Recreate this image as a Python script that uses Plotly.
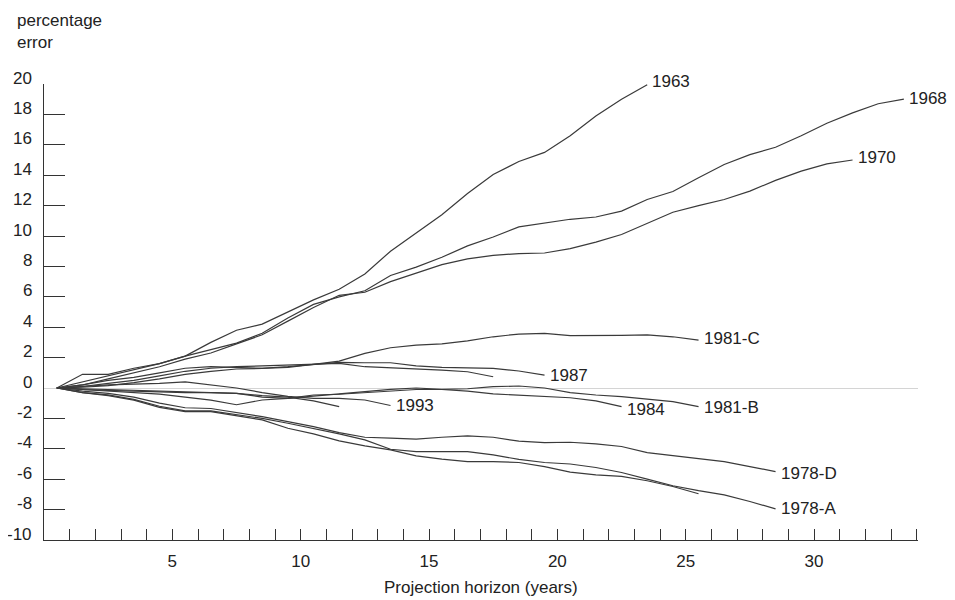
import plotly.graph_objects as go

# ---------------- data (percentage error by projection horizon, years) ----------------
START = 0.5  # first horizon point; points every year after that

names = ["1963", "1968", "1970", "1981-C", "1987", "1990", "1981-B", "1984",
         "1993", "1996", "1978-D", "1978-A", "1981-A"]
labelled = {"1963", "1968", "1970", "1981-C", "1987", "1981-B", "1984",
            "1993", "1978-D", "1978-A"}

s1963 = [0, 0.9, 0.9, 1.3, 1.6, 2.1, 3.0, 3.8, 4.2, 5.0, 5.8, 6.5, 7.5, 9.0,
         10.2, 11.4, 12.8, 14.05, 14.9, 15.5, 16.6, 17.9, 19.0, 19.95]
s1968 = [0, 0.4, 0.8, 1.2, 1.6, 2.1, 2.5, 2.95, 3.6, 4.6, 5.5, 6.0, 6.4, 7.4,
         7.95, 8.6, 9.35, 9.93, 10.6, 10.85, 11.1, 11.25, 11.64, 12.4, 12.93,
         13.83, 14.7, 15.35, 15.84, 16.6, 17.42, 18.1, 18.7, 19.0]
s1970 = [0, 0.2, 0.6, 1.0, 1.4, 1.9, 2.3, 2.9, 3.5, 4.4, 5.3, 6.1, 6.3, 7.0,
         7.57, 8.12, 8.5, 8.73, 8.84, 8.88, 9.17, 9.6, 10.1, 10.85, 11.56,
         12.0, 12.4, 12.95, 13.66, 14.27, 14.75, 15.0]
s1981c = [0, 0.05, 0.15, 0.35, 0.6, 0.9, 1.1, 1.25, 1.29, 1.36, 1.55, 1.77,
          2.28, 2.65, 2.82, 2.9, 3.1, 3.37, 3.55, 3.59, 3.44, 3.44, 3.46, 3.5,
          3.37, 3.15]
s1987 = [0, 0.2, 0.5, 0.7, 1.0, 1.3, 1.4, 1.35, 1.3, 1.4, 1.55, 1.69, 1.66,
         1.66, 1.46, 1.36, 1.33, 1.29, 1.12, 0.85]
s1990 = [0, 0.1, 0.3, 0.5, 0.8, 1.1, 1.3, 1.4, 1.45, 1.5, 1.55, 1.62, 1.4,
         1.33, 1.25, 1.18, 1.07, 0.74]
s1981b = [0, -0.1, -0.15, -0.2, -0.25, -0.3, -0.3, -0.35, -0.6, -0.68, -0.53,
          -0.39, -0.24, -0.09, 0.0, -0.09, -0.05, 0.09, 0.13, 0.0, -0.3, -0.46,
          -0.57, -0.74, -0.9, -1.23]
s1984 = [0, -0.1, -0.2, -0.3, -0.4, -0.6, -0.8, -1.1, -0.79, -0.68, -0.46,
         -0.41, -0.3, -0.2, -0.1, -0.1, -0.2, -0.39, -0.46, -0.57, -0.64,
         -0.85, -1.23]
s1993 = [0, 0.1, 0.2, 0.25, 0.3, 0.4, 0.2, 0.0, -0.3, -0.55, -0.68, -0.68,
         -0.79, -1.15]
s1996 = [0, -0.05, -0.1, -0.15, -0.2, -0.25, -0.3, -0.35, -0.5, -0.6, -0.85,
         -1.23]
s1978d = [0, -0.2, -0.35, -0.6, -1.0, -1.3, -1.35, -1.6, -1.88, -2.21, -2.54,
          -2.93, -3.24, -3.3, -3.37, -3.24, -3.15, -3.24, -3.5, -3.59, -3.57,
          -3.68, -3.85, -4.25, -4.46, -4.66, -4.84, -5.17, -5.5]
s1978a = [0, -0.3, -0.45, -0.75, -1.2, -1.5, -1.5, -1.75, -2.0, -2.32, -2.65,
          -3.02, -3.41, -4.03, -4.18, -4.18, -4.18, -4.4, -4.7, -4.9, -5.0,
          -5.23, -5.56, -6.0, -6.43, -6.75, -7.03, -7.47, -7.95]
s1981a = [0, -0.3, -0.5, -0.8, -1.27, -1.55, -1.55, -1.85, -2.1, -2.65, -3.02,
          -3.48, -3.81, -4.07, -4.46, -4.68, -4.84, -4.84, -4.9, -5.17, -5.54,
          -5.71, -5.82, -6.1, -6.48, -6.96]

values = [s1963, s1968, s1970, s1981c, s1987, s1990, s1981b, s1984,
          s1993, s1996, s1978d, s1978a, s1981a]

# label vertical nudges in pixels (positive = up)
label_yshift = {"1963": 3, "1968": 1, "1970": 3, "1981-C": 2, "1987": 0,
                "1981-B": -1, "1984": -3, "1993": 0, "1978-D": -2, "1978-A": 0}

y_ticks = [20, 18, 16, 14, 12, 10, 8, 6, 4, 2, 0, -2, -4, -6, -8, -10]
x_tick_vals = list(range(1, 35))
x_tick_text = [str(v) if v % 5 == 0 else "" for v in x_tick_vals]

# ---------------- figure ----------------
FONT = "Liberation Sans, Arial, sans-serif"
TXT = "#222222"
LINE = "#3a3a3a"
FS = 17

fig = go.Figure()
annotations = []
for name, vals in zip(names, values):
    xs = [START + i for i in range(len(vals))]
    fig.add_trace(go.Scatter(x=xs, y=vals, mode="lines", name=name,
                             line=dict(color=LINE, width=1.2),
                             hoverinfo="x+y+name", showlegend=False))
    if name in labelled:
        annotations.append(dict(x=xs[-1], y=vals[-1], xref="x", yref="y",
                                text=name, showarrow=False, xanchor="left",
                                yanchor="middle", xshift=3,
                                yshift=label_yshift.get(name, 0),
                                font=dict(family=FONT, size=FS, color=TXT)))

# y tick labels (sit slightly above their tick marks, as in the original)
for v in y_ticks:
    annotations.append(dict(x=0, y=v, xref="paper", yref="y", text=str(v),
                            showarrow=False, xanchor="right", yanchor="middle",
                            xshift=-10, yshift=6,
                            font=dict(family=FONT, size=FS, color=TXT)))

annotations.append(dict(x=0, y=1, xref="paper", yref="paper",
                        text="percentage<br>error", showarrow=False,
                        xanchor="left", yanchor="bottom", align="left",
                        xshift=-29, yshift=30,
                        font=dict(family=FONT, size=FS, color=TXT)))
annotations.append(dict(x=0.5, y=0, xref="paper", yref="paper",
                        text="Projection horizon (years)", showarrow=False,
                        xanchor="center", yanchor="top", yshift=-36,
                        font=dict(family=FONT, size=FS, color=TXT)))

# the page body adds an 8px margin, so the figure is 8px smaller each way
fig.update_layout(
    width=947, height=592, autosize=False,
    margin=dict(l=36, r=37, t=76, b=60),
    paper_bgcolor="white", plot_bgcolor="white",
    font=dict(family=FONT, size=FS, color=TXT),
    annotations=annotations,
    xaxis=dict(range=[0, 34.05], tickmode="array", tickvals=x_tick_vals,
               ticktext=x_tick_text, ticks="inside", ticklen=11, tickwidth=1,
               tickcolor="#333333", showline=True, linecolor="#333333",
               linewidth=1, showgrid=False, zeroline=False,
               tickfont=dict(family=FONT, size=FS, color=TXT),
               ticklabelstandoff=6),
    yaxis=dict(range=[-10, 20], tickmode="array",
               tickvals=[v for v in y_ticks if v not in (0, -10)],
               ticks="inside", ticklen=21, tickwidth=1, tickcolor="#333333",
               showticklabels=False, showline=True, linecolor="#333333",
               linewidth=1, showgrid=False, zeroline=True,
               zerolinecolor="#d4d4d4", zerolinewidth=1),
)

fig.write_html("out.html")
